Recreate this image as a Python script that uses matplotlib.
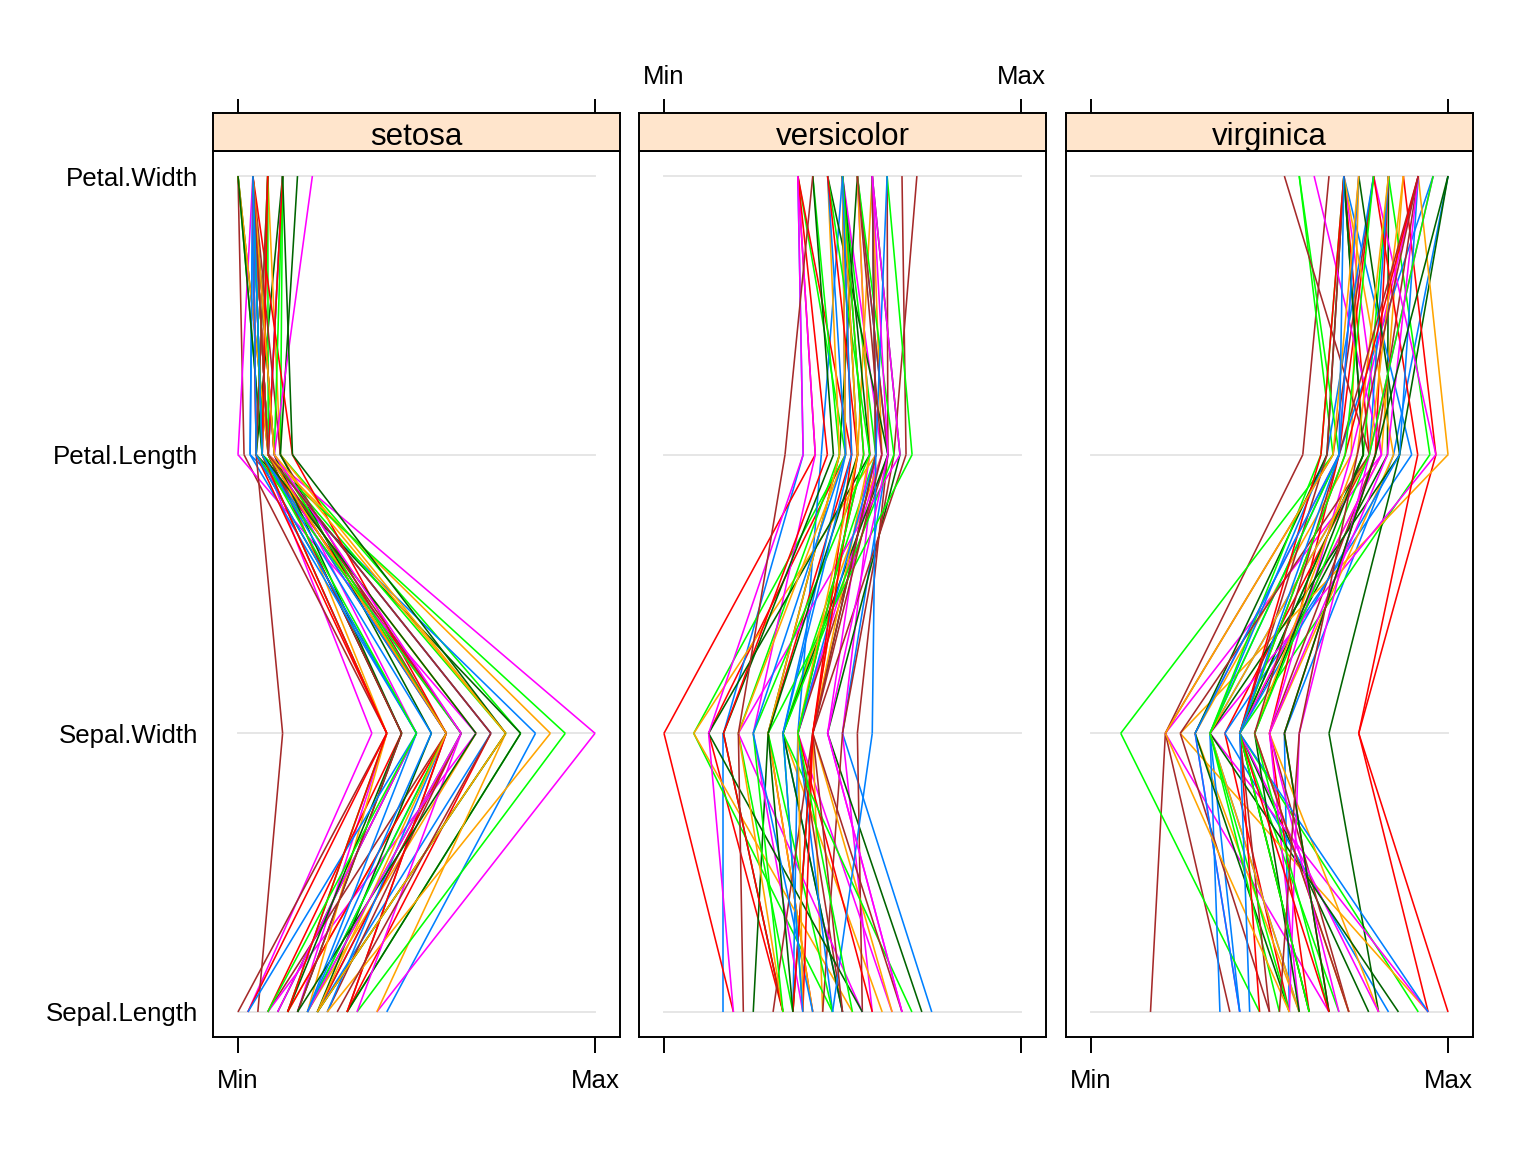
import numpy as np
import matplotlib
matplotlib.use("Agg")
import matplotlib.pyplot as plt
from matplotlib.collections import LineCollection

plt.rcParams["font.family"] = ["Liberation Sans", "DejaVu Sans"]

# iris data, rows in the usual order (50 setosa, 50 versicolor, 50 virginica)
sepal_length = [
    5.1, 4.9, 4.7, 4.6, 5.0, 5.4, 4.6, 5.0, 4.4, 4.9, 5.4, 4.8, 4.8, 4.3, 5.8, 5.7, 5.4, 5.1, 5.7, 5.1,
    5.4, 5.1, 4.6, 5.1, 4.8, 5.0, 5.0, 5.2, 5.2, 4.7, 4.8, 5.4, 5.2, 5.5, 4.9, 5.0, 5.5, 4.9, 4.4, 5.1,
    5.0, 4.5, 4.4, 5.0, 5.1, 4.8, 5.1, 4.6, 5.3, 5.0,
    7.0, 6.4, 6.9, 5.5, 6.5, 5.7, 6.3, 4.9, 6.6, 5.2, 5.0, 5.9, 6.0, 6.1, 5.6, 6.7, 5.6, 5.8, 6.2, 5.6,
    5.9, 6.1, 6.3, 6.1, 6.4, 6.6, 6.8, 6.7, 6.0, 5.7, 5.5, 5.5, 5.8, 6.0, 5.4, 6.0, 6.7, 6.3, 5.6, 5.5,
    5.5, 6.1, 5.8, 5.0, 5.6, 5.7, 5.7, 6.2, 5.1, 5.7,
    6.3, 5.8, 7.1, 6.3, 6.5, 7.6, 4.9, 7.3, 6.7, 7.2, 6.5, 6.4, 6.8, 5.7, 5.8, 6.4, 6.5, 7.7, 7.7, 6.0,
    6.9, 5.6, 7.7, 6.3, 6.7, 7.2, 6.2, 6.1, 6.4, 7.2, 7.4, 7.9, 6.4, 6.3, 6.1, 7.7, 6.3, 6.4, 6.0, 6.9,
    6.7, 6.9, 5.8, 6.8, 6.7, 6.7, 6.3, 6.5, 6.2, 5.9,
]
sepal_width = [
    3.5, 3.0, 3.2, 3.1, 3.6, 3.9, 3.4, 3.4, 2.9, 3.1, 3.7, 3.4, 3.0, 3.0, 4.0, 4.4, 3.9, 3.5, 3.8, 3.8,
    3.4, 3.7, 3.6, 3.3, 3.4, 3.0, 3.4, 3.5, 3.4, 3.2, 3.1, 3.4, 4.1, 4.2, 3.1, 3.2, 3.5, 3.6, 3.0, 3.4,
    3.5, 2.3, 3.2, 3.5, 3.8, 3.0, 3.8, 3.2, 3.7, 3.3,
    3.2, 3.2, 3.1, 2.3, 2.8, 2.8, 3.3, 2.4, 2.9, 2.7, 2.0, 3.0, 2.2, 2.9, 2.9, 3.1, 3.0, 2.7, 2.2, 2.5,
    3.2, 2.8, 2.5, 2.8, 2.9, 3.0, 2.8, 3.0, 2.9, 2.6, 2.4, 2.4, 2.7, 2.7, 3.0, 3.4, 3.1, 2.3, 3.0, 2.5,
    2.6, 3.0, 2.6, 2.3, 2.7, 3.0, 2.9, 2.9, 2.5, 2.8,
    3.3, 2.7, 3.0, 2.9, 3.0, 3.0, 2.5, 2.9, 2.5, 3.6, 3.2, 2.7, 3.0, 2.5, 2.8, 3.2, 3.0, 3.8, 2.6, 2.2,
    3.2, 2.8, 2.8, 2.7, 3.3, 3.2, 2.8, 3.0, 2.8, 3.0, 2.8, 3.8, 2.8, 2.8, 2.6, 3.0, 3.4, 3.1, 3.0, 3.1,
    3.1, 3.1, 2.7, 3.2, 3.3, 3.0, 2.5, 3.0, 3.4, 3.0,
]
petal_length = [
    1.4, 1.4, 1.3, 1.5, 1.4, 1.7, 1.4, 1.5, 1.4, 1.5, 1.5, 1.6, 1.4, 1.1, 1.2, 1.5, 1.3, 1.4, 1.7, 1.5,
    1.7, 1.5, 1.0, 1.7, 1.9, 1.6, 1.6, 1.5, 1.4, 1.6, 1.6, 1.5, 1.5, 1.4, 1.5, 1.2, 1.3, 1.4, 1.3, 1.5,
    1.3, 1.3, 1.3, 1.6, 1.9, 1.4, 1.6, 1.4, 1.5, 1.4,
    4.7, 4.5, 4.9, 4.0, 4.6, 4.5, 4.7, 3.3, 4.6, 3.9, 3.5, 4.2, 4.0, 4.7, 3.6, 4.4, 4.5, 4.1, 4.5, 3.9,
    4.8, 4.0, 4.9, 4.7, 4.3, 4.4, 4.8, 5.0, 4.5, 3.5, 3.8, 3.7, 3.9, 5.1, 4.5, 4.5, 4.7, 4.4, 4.1, 4.0,
    4.4, 4.6, 4.0, 3.3, 4.2, 4.2, 4.2, 4.3, 3.0, 4.1,
    6.0, 5.1, 5.9, 5.6, 5.8, 6.6, 4.5, 6.3, 5.8, 6.1, 5.1, 5.3, 5.5, 5.0, 5.1, 5.3, 5.5, 6.7, 6.9, 5.0,
    5.7, 4.9, 6.7, 4.9, 5.7, 6.0, 4.8, 4.9, 5.6, 5.8, 6.1, 6.4, 5.6, 5.1, 5.6, 6.1, 5.6, 5.5, 4.8, 5.4,
    5.6, 5.1, 5.1, 5.9, 5.7, 5.2, 5.0, 5.2, 5.4, 5.1,
]
petal_width = [
    0.2, 0.2, 0.2, 0.2, 0.2, 0.4, 0.3, 0.2, 0.2, 0.1, 0.2, 0.2, 0.1, 0.1, 0.2, 0.4, 0.4, 0.3, 0.3, 0.3,
    0.2, 0.4, 0.2, 0.5, 0.2, 0.2, 0.4, 0.2, 0.2, 0.2, 0.2, 0.4, 0.1, 0.2, 0.2, 0.2, 0.2, 0.1, 0.2, 0.2,
    0.3, 0.3, 0.2, 0.6, 0.4, 0.3, 0.2, 0.2, 0.2, 0.2,
    1.4, 1.5, 1.5, 1.3, 1.5, 1.3, 1.6, 1.0, 1.3, 1.4, 1.0, 1.5, 1.0, 1.4, 1.3, 1.4, 1.5, 1.0, 1.5, 1.1,
    1.8, 1.3, 1.5, 1.2, 1.3, 1.4, 1.4, 1.7, 1.5, 1.0, 1.1, 1.0, 1.2, 1.6, 1.5, 1.6, 1.5, 1.3, 1.3, 1.3,
    1.2, 1.4, 1.2, 1.0, 1.3, 1.2, 1.3, 1.3, 1.1, 1.3,
    2.5, 1.9, 2.1, 1.8, 2.2, 2.1, 1.7, 1.8, 1.8, 2.5, 2.0, 1.9, 2.1, 2.0, 2.4, 2.3, 1.8, 2.2, 2.3, 1.5,
    2.3, 2.0, 2.0, 1.8, 2.1, 1.8, 1.8, 1.8, 2.1, 1.6, 1.9, 2.0, 2.2, 1.5, 1.4, 2.3, 2.4, 1.8, 1.8, 2.1,
    2.4, 2.3, 1.9, 2.3, 2.5, 2.3, 1.9, 2.0, 2.3, 1.8,
]
species = ["setosa"] * 50 + ["versicolor"] * 50 + ["virginica"] * 50

var_names = ["Sepal.Length", "Sepal.Width", "Petal.Length", "Petal.Width"]
panel_names = ["setosa", "versicolor", "virginica"]

# lattice superpose.line colours, recycled per row inside each panel
line_colors = ["#0080ff", "#ff00ff", "#006400", "#ff0000", "#ffa500", "#00ff00", "#a52a2a"]

data = np.array([sepal_length, sepal_width, petal_length, petal_width]).T
lo = data.min(axis=0)
hi = data.max(axis=0)
scaled = (data - lo) / (hi - lo)
species = np.array(species)

W, H = 1536, 1152
fig = plt.figure(figsize=(W / 100, H / 100), dpi=100)

panel_left = [213, 639, 1066]
panel_w = 407
body_top, body_bot = 151, 1037
strip_top = 113
lw_frame = 1.4
fs = 18.6

for k, name in enumerate(panel_names):
    x0 = panel_left[k] / W
    ax = fig.add_axes([x0, 1 - body_bot / H, panel_w / W, (body_bot - body_top) / H])
    sax = fig.add_axes([x0, 1 - body_top / H, panel_w / W, (body_top - strip_top) / H])

    ax.set_xlim(-0.07, 1.07)
    ax.set_ylim(0.91, 4.09)

    # reference lines
    for j in range(4):
        ax.plot([0, 1], [j + 1, j + 1], color="#e6e6e6", lw=1.4, zorder=1)

    sub = scaled[species == name]
    cols = [line_colors[i % 7] for i in range(len(sub))]
    for j in range(3):
        segs = [[(row[j], j + 1), (row[j + 1], j + 2)] for row in sub]
        ax.add_collection(LineCollection(segs, colors=cols, linewidths=1.15, zorder=2))

    for sp in ax.spines.values():
        sp.set_linewidth(lw_frame)

    # bottom axis
    ax.set_xticks([0, 1])
    ax.tick_params(axis="x", direction="out", length=11.5, width=lw_frame,
                   labelsize=fs, pad=11.5)
    if k == 1:
        ax.set_xticklabels(["", ""])
    else:
        ax.set_xticklabels(["Min", "Max"])

    # left labels
    ax.set_yticks([1, 2, 3, 4])
    if k == 0:
        ax.set_yticklabels(var_names)
        ax.tick_params(axis="y", length=0, labelsize=fs, pad=11)
    else:
        ax.set_yticklabels([])
        ax.tick_params(axis="y", length=0)

    # strip
    sax.set_facecolor("#ffe5cc")
    sax.set_xlim(-0.07, 1.07)
    sax.set_ylim(0, 1)
    sax.set_yticks([])
    sax.xaxis.tick_top()
    sax.set_xticks([0, 1])
    sax.tick_params(axis="x", direction="out", length=10, width=lw_frame,
                    labelsize=fs, pad=7.5, bottom=False, labelbottom=False)
    if k == 1:
        sax.set_xticklabels(["Min", "Max"])
    else:
        sax.set_xticklabels(["", ""])
    for sp in sax.spines.values():
        sp.set_linewidth(lw_frame)
    sax.text(0.5, 0.38, name, transform=sax.transAxes, ha="center", va="center",
             fontsize=22.5)

fig.savefig("out.png", dpi=100, facecolor="white")
